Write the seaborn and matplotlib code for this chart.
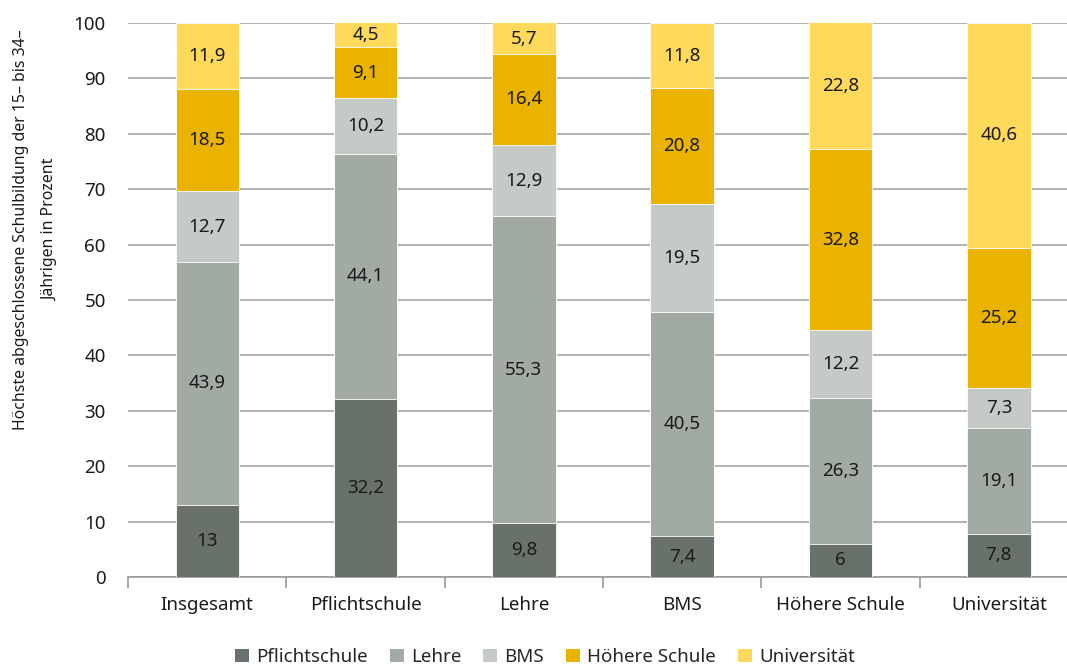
import matplotlib
matplotlib.use("Agg")
import matplotlib.pyplot as plt
import seaborn as sns
import pandas as pd
import numpy as np
from matplotlib.patches import Patch

categories = ["Insgesamt", "Pflichtschule", "Lehre", "BMS", "Höhere Schule", "Universität"]
series = ["Pflichtschule", "Lehre", "BMS", "Höhere Schule", "Universität"]
pflichtschule = [13, 32.2, 9.8, 7.4, 6, 7.8]
lehre = [43.9, 44.1, 55.3, 40.5, 26.3, 19.1]
bms = [12.7, 10.2, 12.9, 19.5, 12.2, 7.3]
hoehere_schule = [18.5, 9.1, 16.4, 20.8, 32.8, 25.2]
universitaet = [11.9, 4.5, 5.7, 11.8, 22.8, 40.6]
colors = ["#68726a", "#a2aaa4", "#c5cac6", "#e9b300", "#ffd95a"]
y_ticks = [0, 10, 20, 30, 40, 50, 60, 70, 80, 90, 100]
y_label = "Höchste abgeschlossene Schulbildung der 15– bis 34–\nJährigen in Prozent"

sns.set_theme(style="white")
plt.rcParams["font.family"] = ["Noto Sans", "DejaVu Sans"]

FS = 13.5
TXT = "#1a1a1a"

values = np.array([pflichtschule, lehre, bms, hoehere_schule, universitaet])
cum = np.cumsum(values, axis=0)

fig = plt.figure(figsize=(10.67, 6.67), dpi=100)
ax = fig.add_axes([128 / 1067, 1 - 577 / 667, (1078 - 128) / 1067, (577 - 23) / 667])

# stacked bars: draw cumulative totals from the top layer down
for i in range(len(series) - 1, -1, -1):
    df = pd.DataFrame({"Kategorie": categories, "Wert": cum[i]})
    sns.barplot(data=df, x="Kategorie", y="Wert", color=colors[i], width=0.4,
                saturation=1, edgecolor="white", linewidth=0.6, ax=ax, zorder=3)

# segment labels, centred in the visible part of each segment
for i in range(len(series)):
    for j in range(len(categories)):
        v = values[i, j]
        lo = cum[i, j] - v
        hi = min(cum[i, j], 100)
        txt = f"{v:g}".replace(".", ",")
        ax.text(j, (lo + hi) / 2, txt, ha="center", va="center",
                fontsize=FS, color=TXT, zorder=5)

ax.set_ylim(0, 100)
ax.set_xlim(-0.5, 5.5)
ax.set_yticks(y_ticks)
ax.set_yticklabels([str(t) for t in y_ticks], fontsize=FS, color=TXT)
ax.tick_params(axis="y", length=0, pad=16)
ax.yaxis.grid(True, color="#a6a6a6", linewidth=1.2, zorder=0)
ax.set_axisbelow(True)

ax.set_xticks(range(len(categories)))
ax.set_xticklabels(categories, fontsize=FS, color=TXT)
ax.set_xticks(np.arange(-0.5, 6.0, 1.0), minor=True)
ax.tick_params(axis="x", which="major", length=0, pad=14)
ax.tick_params(axis="x", which="minor", length=8, width=1.2, color="#9a9a9a", bottom=True)
ax.set_xlabel("")
ax.set_ylabel("")

for s in ["top", "right", "left"]:
    ax.spines[s].set_visible(False)
ax.spines["bottom"].set_color("#9a9a9a")
ax.spines["bottom"].set_linewidth(1.2)

fig.text(36 / 1067, 1 - 230 / 667, y_label, rotation=90, ha="center", va="center",
         fontsize=11.4, color=TXT, linespacing=2.1, multialignment="center")

handles = [Patch(facecolor=c, edgecolor="none") for c in colors]
fig.legend(handles, series, loc="center", bbox_to_anchor=(545 / 1067, 1 - 657 / 667),
           ncol=5, frameon=False, fontsize=FS, handlelength=0.75, handleheight=0.75,
           handletextpad=0.4, columnspacing=1.15)

fig.savefig("out.png", dpi=100)
